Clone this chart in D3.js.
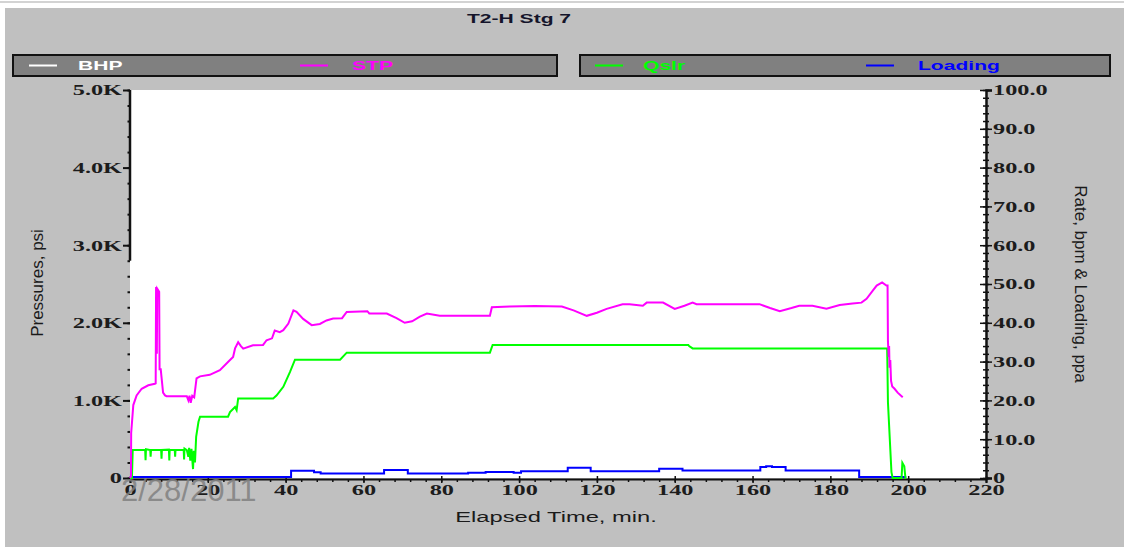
<!DOCTYPE html>
<html><head><meta charset="utf-8">
<script src="https://cdn.jsdelivr.net/npm/d3@7"></script>
<style>html,body{margin:0;padding:0;background:#fff;overflow:hidden}</style>
</head><body>
<svg id="chart" width="1124" height="547"></svg>
<script>
// ---- data ----
const chartTitle = "T2-H Stg 7";
const legendNames = ["BHP", "STP", "Qslr", "Loading"];
const legendColors = ["#ffffff", "#ff00ff", "#00ff00", "#0000ff"];

const xTicks = [0, 20, 40, 60, 80, 100, 120, 140, 160, 180, 200, 220];
const leftTicks = [0, 1000, 2000, 3000, 4000, 5000];
const leftTickLabels = ["0", "1.0K", "2.0K", "3.0K", "4.0K", "5.0K"];
const rightTicks = [0, 10, 20, 30, 40, 50, 60, 70, 80, 90, 100];
const rightTickLabels = ["0", "10.0", "20.0", "30.0", "40.0", "50.0", "60.0", "70.0", "80.0", "90.0", "100.0"];

// STP (psi) vs elapsed time (min)
const stpTime = [0,0.25,0.3,0.85,1.7,3.0,4.7,6.4,6.6,6.7,6.9,7.0,7.5,7.6,7.9,8.1,8.5,9.0,9.4,14.6,15.0,15.3,15.6,16.0,16.5,17.1,18.0,20.5,23.1,25.7,26.5,27.0,27.8,28.5,29.1,31.6,34.2,35.1,36.5,37.2,38.5,39.4,40.7,42.0,42.8,44.5,46.7,48.8,50.5,52.2,54.5,55.7,61,61.5,66,68.5,70.6,72.5,74.5,76.3,79.6,92.5,93.0,97.6,104,111,114,117.4,120,122.5,126.6,128.4,131.8,132.8,137,140,142.5,144.6,145.6,161.8,164.5,167,170,172,175.4,179,182.4,185.7,188,189.3,191.0,191.9,193.3,194.4,194.7,194.8,195.0,195.1,195.2,195.4,195.6,195.9,196.5,197.3,198.6];
const stpPsi  = [0,20,580,940,1065,1150,1195,1215,1220,2460,1600,2440,2400,1400,1400,1300,1100,1065,1055,1055,1000,1060,970,1060,1040,1285,1310,1330,1390,1520,1560,1670,1750,1700,1667,1710,1715,1775,1800,1900,1880,1905,1990,2160,2140,2050,1970,1985,2030,2056,2060,2140,2150,2120,2120,2060,2000,2020,2080,2120,2090,2090,2200,2210,2215,2210,2160,2090,2130,2180,2240,2240,2220,2260,2260,2180,2220,2260,2240,2240,2190,2150,2190,2220,2220,2180,2230,2250,2260,2310,2420,2480,2520,2480,2480,1760,1560,1700,1420,1520,1250,1180,1150,1100,1040];

// Qslr (bpm) vs elapsed time (min)
const qslrTime = [0,0.5,0.7,3.9,4.0,4.1,5.2,5.3,5.4,8.0,8.1,8.2,10.0,10.1,10.2,11.5,11.6,11.7,13.8,13.9,14.0,14.6,15.0,15.2,15.5,15.8,16.2,16.4,16.7,17.0,17.6,18.0,25.2,25.7,27.0,27.4,27.8,36.8,37.7,39.4,41.1,42.4,54.0,55.7,92.5,93.2,143.5,143.7,144.6,194.6,194.8,195.7,196.0,198.3,198.5,199.0,199.3,199.5];
const qslrRate = [0,0,7.2,7.2,4.6,7.4,7.2,5.5,7.2,7.2,5.0,7.2,7.3,4.5,7.2,7.2,5.5,7.2,7.2,4.8,7.6,7.2,5.5,7.8,4.5,7.5,2.3,7.0,4.0,10.6,14.5,15.8,15.8,17,18.3,17.5,20.5,20.5,21.3,23.5,27.3,30.5,30.5,32.3,32.3,34.3,34.3,34.0,33.4,33.4,19.5,1.5,0,0,3.9,3.0,0,0];

// Loading (ppa) vs elapsed time (min), stepped
const loadTime = [0,41.4,47.3,49,65.3,71.4,86.9,91.4,98.6,100.5,112.5,118.4,136,142,162,163.5,165,168.5,187.4,199.5];
const loadPpa  = [0,1.6,1.2,0.9,1.8,0.9,1.1,1.3,1.1,1.5,2.4,1.5,2.1,1.7,2.6,2.8,2.6,1.7,0,0];

// ---- layout ----
const W = 1124, H = 547;
const SX = 1.62; // horizontal stretch of the original rendering
const svg = d3.select("#chart");

svg.append("rect").attr("x",0).attr("y",0).attr("width",W).attr("height",H).attr("fill","#ffffff");
svg.append("line").attr("x1",0).attr("x2",W).attr("y1",2).attr("y2",2).attr("stroke","#c4c4c4").attr("stroke-width",1.5);
svg.append("rect").attr("x",5).attr("y",8).attr("width",W-5).attr("height",H-8).attr("fill","#c0c0c0");

const x = d3.scaleLinear().domain([0,220]).range([130,986]);
const yL = d3.scaleLinear().domain([0,5000]).range([478,90]);
const yR = d3.scaleLinear().domain([0,100]).range([478,90]);

// plot area
svg.append("rect").attr("x",130).attr("y",90).attr("width",856).attr("height",388).attr("fill","#ffffff");

function stext(g, px, py, str, o) {
  o = o || {};
  return g.append("text")
    .attr("transform", `translate(${px},${py}) scale(${o.sx||SX},1)`)
    .attr("text-anchor", o.anchor || "start")
    .attr("font-family", o.family || "'Liberation Sans', Arial, sans-serif")
    .attr("font-size", o.size || 13)
    .attr("font-weight", o.weight || "bold")
    .attr("fill", o.fill || "#111")
    .text(str);
}

// title
stext(svg, 519, 23, chartTitle, {anchor:"middle", size:13, fill:"#14142a"});

// legend boxes
const lg = svg.append("g");
lg.append("rect").attr("x",13).attr("y",55).attr("width",544).attr("height",21).attr("fill","#808080").attr("stroke","#111").attr("stroke-width",2);
lg.append("rect").attr("x",580).attr("y",55).attr("width",530).attr("height",21).attr("fill","#808080").attr("stroke","#111").attr("stroke-width",2);
const legLineX = [29, 300, 595, 866];
const legTextX = [78, 352, 643, 918];
legendNames.forEach((n,i) => {
  lg.append("line").attr("x1",legLineX[i]).attr("x2",legLineX[i]+28).attr("y1",65.5).attr("y2",65.5)
    .attr("stroke",legendColors[i]).attr("stroke-width",2);
  stext(lg, legTextX[i], 70, n, {size:13, fill:legendColors[i]});
});

// ---- axes ----
const serif = "'Liberation Serif', 'Times New Roman', serif";
function styleTicks(g, xoff, anchor) {
  g.selectAll(".tick text")
    .attr("font-family", serif).attr("font-size", 15).attr("font-weight","bold").attr("fill","#1c1c1c")
    .attr("text-anchor", anchor)
    .attr("x", xoff / SX)
    .attr("transform", `scale(${SX},1)`);
}

// left axis (minor + major)
const gLm = svg.append("g").attr("transform","translate(130,0)")
  .call(d3.axisLeft(yL).tickValues(d3.range(0,5001,200)).tickSize(2.5).tickFormat(""));
gLm.select(".domain").remove();
gLm.selectAll(".tick line").attr("stroke","#111").attr("stroke-width",2);
const gL = svg.append("g").attr("transform","translate(130,0)")
  .call(d3.axisLeft(yL).tickValues(leftTicks).tickSize(7).tickFormat((d,i)=>leftTickLabels[i]));
gL.select(".domain").remove();
gL.selectAll(".tick line").attr("stroke","#111").attr("stroke-width",2);
styleTicks(gL, -8, "end");
svg.append("line").attr("x1",130).attr("x2",130).attr("y1",yL(5000)).attr("y2",yL(2800))
  .attr("stroke","#111").attr("stroke-width",2.5);

// right axis
const gRm = svg.append("g").attr("transform","translate(986,0)")
  .call(d3.axisRight(yR).tickValues(d3.range(0,101,2)).tickSize(3).tickFormat(""));
gRm.select(".domain").remove();
gRm.selectAll(".tick line").attr("x1",-3).attr("stroke","#111").attr("stroke-width",1.5);
const gR = svg.append("g").attr("transform","translate(986,0)")
  .call(d3.axisRight(yR).tickValues(rightTicks).tickSize(6).tickFormat((d,i)=>rightTickLabels[i]));
gR.select(".domain").attr("stroke","#111").attr("stroke-width",2.5);
gR.selectAll(".tick line").attr("x1",-6).attr("stroke","#111").attr("stroke-width",1.5);
styleTicks(gR, 7, "start");

// bottom axis
const gBm = svg.append("g").attr("transform","translate(0,479)")
  .call(d3.axisBottom(x).tickValues(d3.range(0,221,4)).tickSize(3).tickFormat(""));
gBm.select(".domain").remove();
gBm.selectAll(".tick line").attr("stroke","#111").attr("stroke-width",1.5);
const gB = svg.append("g").attr("transform","translate(0,479)")
  .call(d3.axisBottom(x).tickValues(xTicks).tickSize(4).tickFormat(d3.format("d")));
gB.select(".domain").attr("stroke","#111").attr("stroke-width",2);
gB.selectAll(".tick line").attr("y1",-3).attr("stroke","#111").attr("stroke-width",1.5);
styleTicks(gB, 0, "middle");
gB.selectAll(".tick text").attr("y", 5).attr("dy","0.71em");

// axis titles
stext(svg, 556, 522, "Elapsed Time, min.", {anchor:"middle", size:15, weight:"normal", fill:"#1a1a1a", sx:1.58});
svg.append("text").attr("transform","translate(43,283) rotate(-90)").attr("text-anchor","middle")
  .attr("font-family","'Liberation Sans', Arial, sans-serif").attr("font-size",17).attr("fill","#1a1a1a")
  .text("Pressures, psi");
svg.append("text").attr("transform","translate(1075,284) rotate(90)").attr("text-anchor","middle")
  .attr("font-family","'Liberation Sans', Arial, sans-serif").attr("font-size",17).attr("fill","#1a1a1a")
  .text("Rate, bpm & Loading, ppa");

// ---- series ----
const loadData = loadTime.map((t,i)=>({t, v: loadPpa[i]}));
const qslrData = qslrTime.map((t,i)=>({t, v: qslrRate[i]}));
const stpData = stpTime.map((t,i)=>({t, v: stpPsi[i]}));

svg.append("path").datum(loadData)
  .attr("d", d3.line().x(d=>x(d.t)).y(d=>yR(d.v)-1).curve(d3.curveStepAfter))
  .attr("fill","none").attr("stroke","#0000ff").attr("stroke-width",2);
svg.append("path").datum(qslrData)
  .attr("d", d3.line().x(d=>x(d.t)).y(d=>yR(d.v)))
  .attr("fill","none").attr("stroke","#00ff00").attr("stroke-width",2);
svg.append("path").datum(stpData)
  .attr("d", d3.line().x(d=>x(d.t)).y(d=>yL(d.v)))
  .attr("fill","none").attr("stroke","#ff00ff").attr("stroke-width",2);

// watermark date
svg.append("text").attr("x",121).attr("y",501)
  .attr("font-family","'Liberation Sans Narrow', 'Liberation Sans', sans-serif").attr("font-size",31)
  .attr("fill","#808080").attr("fill-opacity",0.85).text("2/28/2011");
</script>
</body></html>
